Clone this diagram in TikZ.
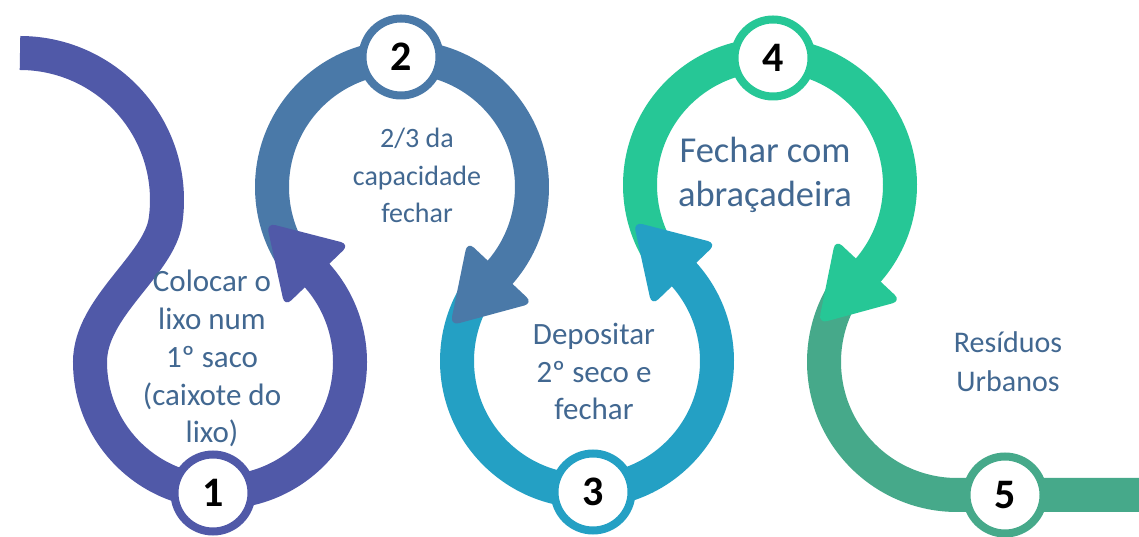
\documentclass[tikz,border=0pt]{standalone}
\usepackage{fontspec}
\setmainfont{Carlito}
\usetikzlibrary{calc}
\definecolor{cA}{RGB}{80,89,168}
\definecolor{cB}{RGB}{74,121,168}
\definecolor{cC}{RGB}{36,160,196}
\definecolor{cD}{RGB}{38,199,150}
\definecolor{cE}{RGB}{70,169,138}
\definecolor{txt}{RGB}{66,104,145}
\begin{document}
\begin{tikzpicture}[x=1pt,y=1pt,
  band/.style={line width=34pt},
  headshape/.style={rounded corners=9pt},
  numc/.style={circle,draw=#1,line width=8pt,fill=white,minimum size=77pt,inner sep=0pt,
    font=\fontsize{42}{42}\selectfont\bfseries,text=black},
  lbl/.style={text=txt,align=center,inner sep=0pt,anchor=base}
]
\useasboundingbox (0,0) rectangle (1139,537);
\fill[white] (0,0) rectangle (1139,537);
% loop centres
\coordinate (C1) at (220,175);
\coordinate (C2) at (402,350);
\coordinate (C3) at (587,176);
\coordinate (C4) at (770,352);
\coordinate (C5) at (957,175);
\coordinate (S0) at (20,484);
\coordinate (E5) at (1139,42);
% junctions
\coordinate (T12) at ($(C1)+(43.9:130)$);
\coordinate (T23) at ($(C2)+(-43.2:130)$);
\coordinate (T34) at ($(C3)+(43.9:130)$);
\coordinate (T45) at ($(C4)+(-43.1:130)$);
% bands
\draw[band,cA] (S0) arc (90:-8:147) .. controls +(-98:45) and +(90:55) .. (90,175) arc (180:403.9:130);
\draw[band,cB] ($(C2)+(223.9:130)$) arc (223.9:-43.2:130);
\draw[band,cC] ($(C3)+(136.8:130)$) arc (136.8:403.9:130);
\draw[band,cD] ($(C4)+(223.9:130)$) arc (223.9:-43.1:130);
\draw[band,cE] ($(C5)+(136.9:133)$) arc (136.9:270:133) -- (E5);
% arrow heads
\fill[cA,headshape] ($(T12)+(43.9:45)+(313.9:5)$) -- ($(T12)+(133.9:68)$) -- ($(T12)+(223.9:45)+(313.9:5)$) -- cycle;
\fill[cB,headshape] ($(T23)+(-43.2:45)+(46.8:5)$) -- ($(T23)+(-133.2:68)$) -- ($(T23)+(136.8:45)+(46.8:5)$) -- cycle;
\fill[cC,headshape] ($(T34)+(43.9:45)+(313.9:5)$) -- ($(T34)+(133.9:68)$) -- ($(T34)+(223.9:45)+(313.9:5)$) -- cycle;
\fill[cD,headshape] ($(T45)+(-43.1:45)+(46.9:5)$) -- ($(T45)+(-133.1:68)$) -- ($(T45)+(136.9:45)+(46.9:5)$) -- cycle;
% number circles
\node[numc=cA] (n1) at (213,44) {1};
\node[numc=cB] (n2) at (401,480) {2};
\node[numc=cC] (n3) at (593,45) {3};
\node[numc=cD] (n4) at (773,479) {4};
\node[numc=cE] (n5) at (1005,42) {5};
% labels (anchor at baseline of last line)
\node[lbl,font=\fontsize{31}{37.8}\selectfont] (t1) at (212,94) {Colocar o\\lixo num\\1º saco\\(caixote do\\lixo)};
\node[lbl,font=\fontsize{28}{37.5}\selectfont] (t2) at (417,314) {2/3 da\\capacidade\\fechar};
\node[lbl,font=\fontsize{31}{37.5}\selectfont] (t3) at (594,117) {Depositar\\2º seco e\\fechar};
\node[lbl,font=\fontsize{36.5}{44}\selectfont] (t4) at (765,330) {Fechar com\\abraçadeira};
\node[lbl,font=\fontsize{30}{39}\selectfont] (t5) at (1008,145) {Resíduos\\Urbanos};
\end{tikzpicture}
\end{document}
